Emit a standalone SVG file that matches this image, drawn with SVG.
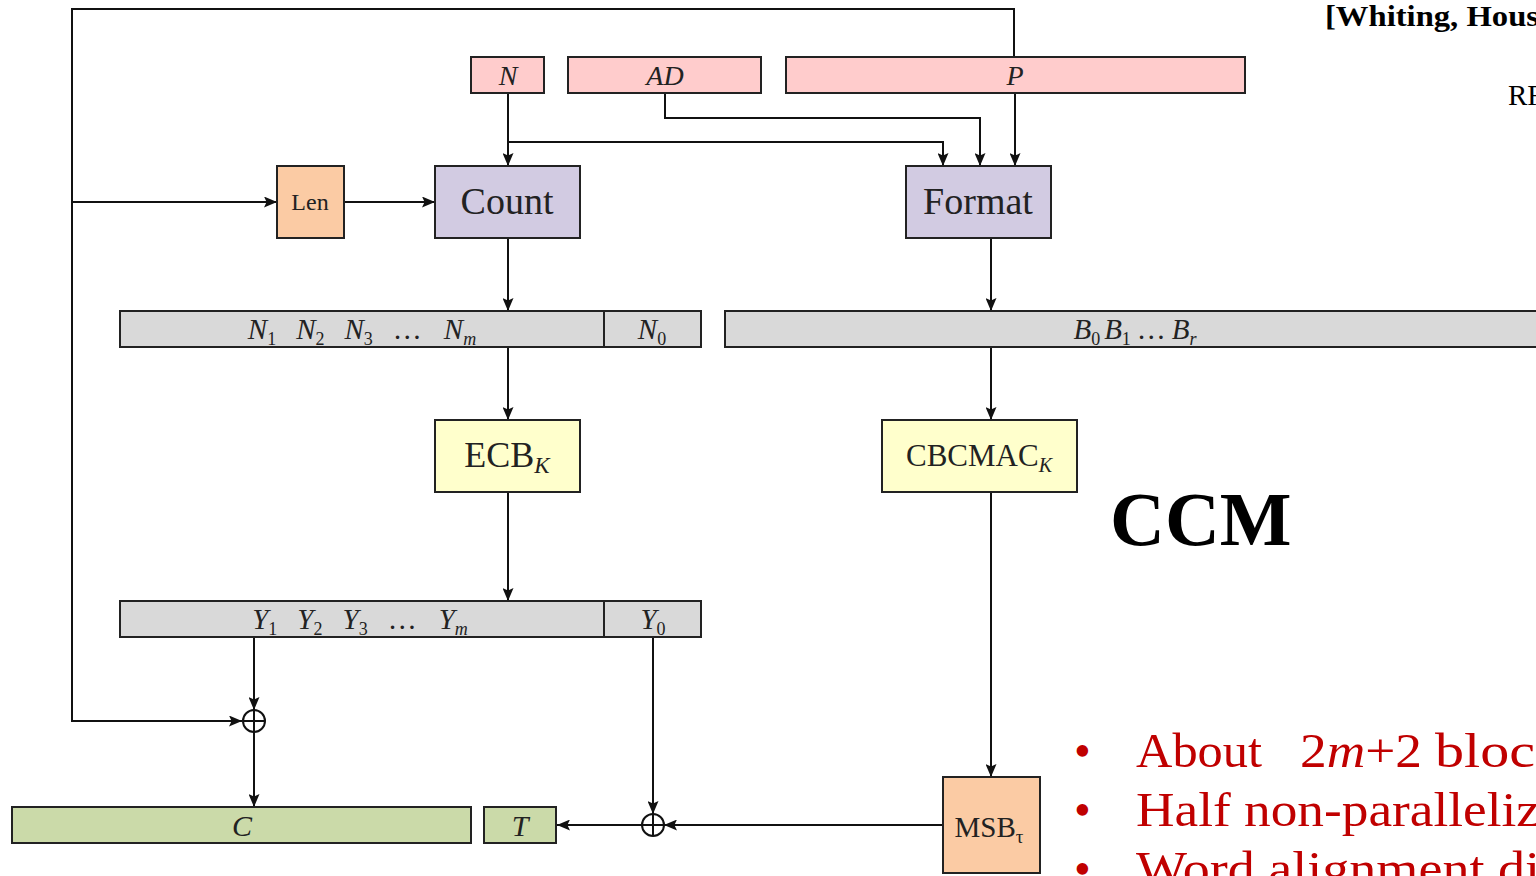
<svg xmlns="http://www.w3.org/2000/svg" width="1536" height="876" viewBox="0 0 1536 876">
<style>
.b{stroke:#222;stroke-width:2}
.pink{fill:#ffcccc}
.pur{fill:#d2cbe2}
.or{fill:#fbcba4}
.gr{fill:#d9d9d9}
.yl{fill:#ffffcc}
.gn{fill:#cbdaa9}
.t{font-family:"Liberation Serif",serif;fill:#222;text-anchor:middle}
.i{font-style:italic}
.c line,.c polyline{stroke:#111;stroke-width:2;fill:none}
.red{font-family:"Liberation Serif",serif;fill:#c00000;font-size:48px}
</style>
<defs>
<marker id="a" viewBox="0 0 10 10" refX="10" refY="5" markerWidth="13" markerHeight="11" orient="auto" markerUnits="userSpaceOnUse" preserveAspectRatio="none">
<path d="M0,0 L10,5 L0,10 L2,5 z" fill="#111"/>
</marker>
</defs>
<rect width="1536" height="876" fill="#fff"/>
<g class="c">
<polyline points="1014,57 1014,9 72,9 72,721 242,721" marker-end="url(#a)"/>
<line x1="72" y1="202" x2="277" y2="202" marker-end="url(#a)"/>
<line x1="344" y1="202" x2="435" y2="202" marker-end="url(#a)"/>
<line x1="508" y1="93" x2="508" y2="166" marker-end="url(#a)"/>
<polyline points="508,142 943,142 943,166" marker-end="url(#a)"/>
<polyline points="665,93 665,118 980,118 980,166" marker-end="url(#a)"/>
<line x1="1015" y1="93" x2="1015" y2="166" marker-end="url(#a)"/>
<line x1="508" y1="238" x2="508" y2="311" marker-end="url(#a)"/>
<line x1="991" y1="238" x2="991" y2="311" marker-end="url(#a)"/>
<line x1="508" y1="347" x2="508" y2="420" marker-end="url(#a)"/>
<line x1="991" y1="347" x2="991" y2="420" marker-end="url(#a)"/>
<line x1="508" y1="492" x2="508" y2="601" marker-end="url(#a)"/>
<line x1="991" y1="492" x2="991" y2="777" marker-end="url(#a)"/>
<line x1="254" y1="637" x2="254" y2="710" marker-end="url(#a)"/>
<line x1="254" y1="710" x2="254" y2="807" marker-end="url(#a)"/>
<line x1="653" y1="637" x2="653" y2="814" marker-end="url(#a)"/>
<line x1="943" y1="825" x2="664" y2="825" marker-end="url(#a)"/>
<line x1="642" y1="825" x2="557" y2="825" marker-end="url(#a)"/>
<circle cx="254" cy="721" r="11" stroke="#111" stroke-width="2" fill="none"/>
<line x1="243" y1="721" x2="265" y2="721"/>
<circle cx="653" cy="825" r="11" stroke="#111" stroke-width="2" fill="none"/>
<line x1="653" y1="814" x2="653" y2="836"/>
<line x1="642" y1="825" x2="664" y2="825"/>
</g>
<g id="N"><rect class="b pink" x="471" y="57" width="73" height="36"/><text class="t i" x="508" y="85" font-size="28">N</text></g>
<g id="AD"><rect class="b pink" x="568" y="57" width="193" height="36"/><text class="t i" x="665" y="85" font-size="28">AD</text></g>
<g id="P"><rect class="b pink" x="786" y="57" width="459" height="36"/><text class="t i" x="1015" y="85" font-size="28">P</text></g>
<g id="Len"><rect class="b or" x="277" y="166" width="67" height="72"/><text class="t" x="310" y="210" font-size="24">Len</text></g>
<g id="Count"><rect class="b pur" x="435" y="166" width="145" height="72"/><text class="t" x="507" y="214" font-size="38">Count</text></g>
<g id="Format"><rect class="b pur" x="906" y="166" width="145" height="72"/><text class="t" x="978" y="214" font-size="38">Format</text></g>
<g id="Nbar"><rect class="b gr" x="120" y="311" width="581" height="36"/><line class="b" x1="604" y1="311" x2="604" y2="347"/>
<text class="t i" x="362" y="339" font-size="29">N<tspan font-size="18" font-style="normal" dy="6">1</tspan><tspan dy="-6" dx="20">N</tspan><tspan font-size="18" font-style="normal" dy="6">2</tspan><tspan dy="-6" dx="20">N</tspan><tspan font-size="18" font-style="normal" dy="6">3</tspan><tspan dx="20" dy="-6" font-style="normal">…</tspan><tspan dx="22">N</tspan><tspan font-size="18" dy="6">m</tspan></text>
<text class="t i" x="652" y="339" font-size="29">N<tspan font-size="18" font-style="normal" dy="6">0</tspan></text></g>
<g id="Bbar"><rect class="b gr" x="725" y="311" width="820" height="36"/>
<text class="t i" x="1135" y="339" font-size="29">B<tspan font-size="18" font-style="normal" dy="6">0</tspan><tspan dy="-6" dx="4">B</tspan><tspan font-size="18" font-style="normal" dy="6">1</tspan><tspan dy="-6" dx="6" font-style="normal">…</tspan><tspan dx="6">B</tspan><tspan font-size="18" dy="6">r</tspan></text></g>
<g id="ECB"><rect class="b yl" x="435" y="420" width="145" height="72"/><text class="t" x="507" y="467" font-size="36">ECB<tspan class="i" font-size="23" dy="6">K</tspan></text></g>
<g id="CBCMAC"><rect class="b yl" x="882" y="420" width="195" height="72"/><text class="t" x="979" y="466" font-size="31">CBCMAC<tspan class="i" font-size="20" dy="6">K</tspan></text></g>
<g id="Ybar"><rect class="b gr" x="120" y="601" width="581" height="36"/><line class="b" x1="604" y1="601" x2="604" y2="637"/>
<text class="t i" x="360" y="629" font-size="29">Y<tspan font-size="18" font-style="normal" dy="6">1</tspan><tspan dy="-6" dx="20">Y</tspan><tspan font-size="18" font-style="normal" dy="6">2</tspan><tspan dy="-6" dx="20">Y</tspan><tspan font-size="18" font-style="normal" dy="6">3</tspan><tspan dx="20" dy="-6" font-style="normal">…</tspan><tspan dx="22">Y</tspan><tspan font-size="18" dy="6">m</tspan></text>
<text class="t i" x="653" y="629" font-size="29">Y<tspan font-size="18" font-style="normal" dy="6">0</tspan></text></g>
<g id="C"><rect class="b gn" x="12" y="807" width="459" height="36"/><text class="t i" x="242" y="836" font-size="30">C</text></g>
<g id="T"><rect class="b gn" x="484" y="807" width="72" height="36"/><text class="t i" x="520" y="836" font-size="30">T</text></g>
<g id="MSB"><rect class="b or" x="943" y="777" width="97" height="96"/><text class="t" x="989" y="837" font-size="29">MSB<tspan font-size="19" dy="6">τ</tspan></text></g>
<text x="1110" y="545" font-family="Liberation Serif,serif" font-weight="bold" font-size="76" fill="#000">CCM</text>
<text x="1325" y="26" font-family="Liberation Serif,serif" font-weight="bold" font-size="29" fill="#000" textLength="214" lengthAdjust="spacingAndGlyphs">[Whiting, Hous</text>
<text x="1508" y="105" font-family="Liberation Serif,serif" font-size="29" fill="#000">RF</text>
<g class="red">
<text x="1074" y="767">•</text>
<text x="1136" y="767" textLength="126" lengthAdjust="spacingAndGlyphs">About</text>
<text x="1300" y="767" textLength="122" lengthAdjust="spacingAndGlyphs"><tspan>2</tspan><tspan font-style="italic">m</tspan><tspan>+2</tspan></text>
<text x="1435" y="767" textLength="100" lengthAdjust="spacingAndGlyphs">bloc</text>
<text x="1074" y="826">•</text>
<text x="1136" y="826" textLength="404" lengthAdjust="spacingAndGlyphs">Half non-paralleliz</text>
<text x="1074" y="885">•</text>
<text x="1136" y="885" textLength="404" lengthAdjust="spacingAndGlyphs">Word alignment di</text>
</g>
</svg>
